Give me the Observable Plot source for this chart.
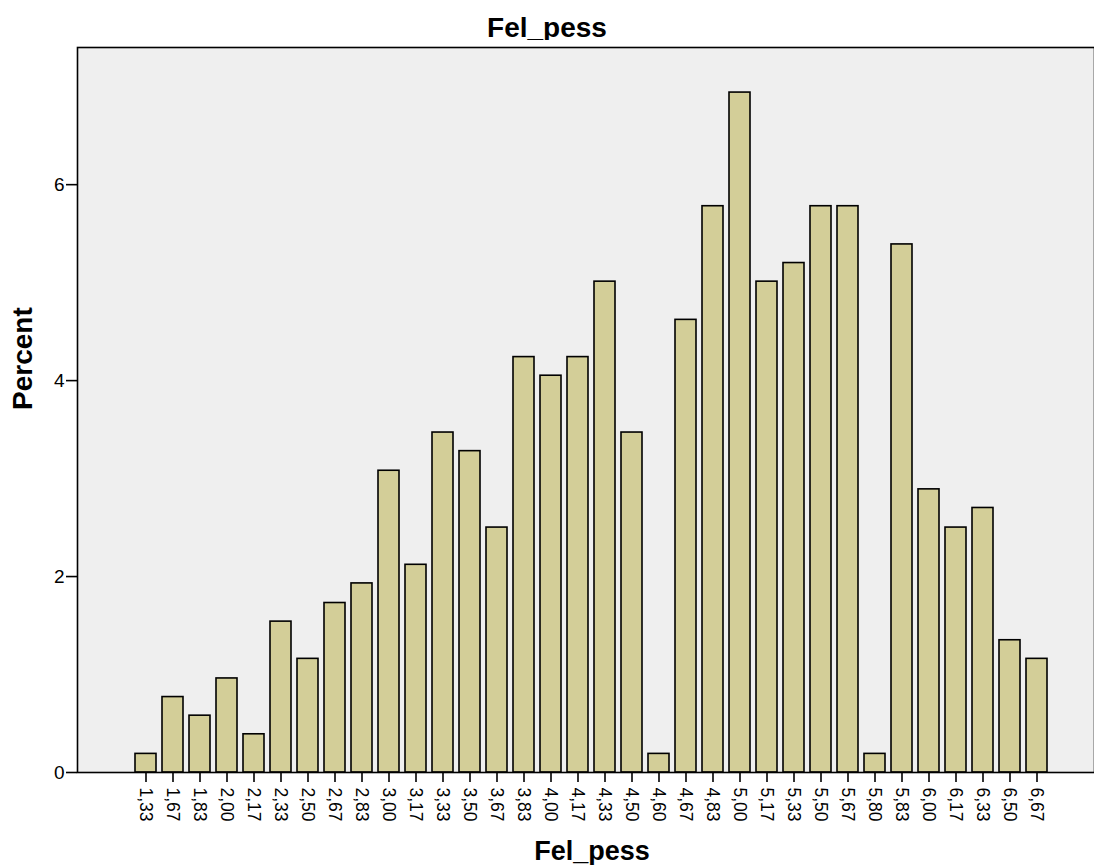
<!DOCTYPE html>
<html>
<head>
<meta charset="utf-8">
<script src="https://cdn.jsdelivr.net/npm/d3@7"></script>
<script src="https://cdn.jsdelivr.net/npm/@observablehq/plot@0.6"></script>
<style>
  html, body { margin: 0; padding: 0; background: #ffffff; }
  body { position: relative; width: 1094px; height: 865px; overflow: hidden; font-family: "Liberation Sans", Arial, sans-serif; }
  #title { position: absolute; top: 12px; left: 0; width: 1094px; text-align: center; font-weight: bold; font-size: 28px; line-height: 32px; color: #000; }
  #chart { position: absolute; top: 40px; left: 0; }
  svg { display: block; }
  #chart g[aria-label="x-axis tick label"], #chart g[aria-label="x-axis tick label"] text { font-size: 17.5px !important; }
  #chart g[aria-label="y-axis tick label"], #chart g[aria-label="y-axis tick label"] text { font-size: 19px !important; }
</style>
</head>
<body>
<div id="title">Fel_pess</div>
<div id="chart"></div>
<script>
const categories = ["1,33","1,67","1,83","2,00","2,17","2,33","2,50","2,67","2,83","3,00","3,17","3,33","3,50","3,67","3,83","4,00","4,17","4,33","4,50","4,60","4,67","4,83","5,00","5,17","5,33","5,50","5,67","5,80","5,83","6,00","6,17","6,33","6,50","6,67"];
const percents = [0.19,0.77,0.58,0.96,0.39,1.54,1.16,1.73,1.93,3.08,2.12,3.47,3.28,2.50,4.24,4.05,4.24,5.01,3.47,0.19,4.62,5.78,6.94,5.01,5.20,5.78,5.78,0.19,5.39,2.89,2.50,2.70,1.35,1.16];
const yTicks = [0, 2, 4, 6];
const title = "Fel_pess";
const xLabel = "Fel_pess";
const yLabel = "Percent";

const data = categories.map((c, i) => ({cat: c, pct: percents[i]}));

const chart = Plot.plot({
  width: 1094,
  height: 825,
  marginLeft: 77,
  marginRight: 0,
  marginTop: 7,
  marginBottom: 93,
  style: {fontFamily: "'Liberation Sans', Arial, sans-serif", fontSize: "18px", color: "#000", background: "#ffffff", overflow: "visible"},
  x: {domain: categories, range: [127.4, 1054.3], padding: 0.23, label: null},
  y: {domain: [0, 7.4], label: null},
  marks: [
    Plot.frame({fill: "#efefef", stroke: "none"}),
    Plot.barY(data, {x: "cat", y: "pct", fill: "#d3ce98", stroke: "#000", strokeWidth: 1.6}),
    Plot.axisX({tickRotate: 90, tickSize: 10, tickPadding: 5, fontSize: 17.5, stroke: "#000", strokeWidth: 1.6, label: null}),
    Plot.axisY({ticks: yTicks, tickSize: 11, tickPadding: 2, fontSize: 19, stroke: "#000", strokeWidth: 1.6, label: null}),
    Plot.frame({stroke: "#000", strokeWidth: 1.6}),
    Plot.text([xLabel], {frameAnchor: "bottom", lineAnchor: "middle", dy: 79, dx: 6, fontSize: 27, fontWeight: "bold", fill: "#000"}),
    Plot.text([yLabel], {frameAnchor: "left", lineAnchor: "middle", dx: -54, rotate: -90, fontSize: 28, fontWeight: "bold", fill: "#000"})
  ]
});
document.getElementById("chart").appendChild(chart);
document.getElementById("title").textContent = title;
</script>
</body>
</html>
